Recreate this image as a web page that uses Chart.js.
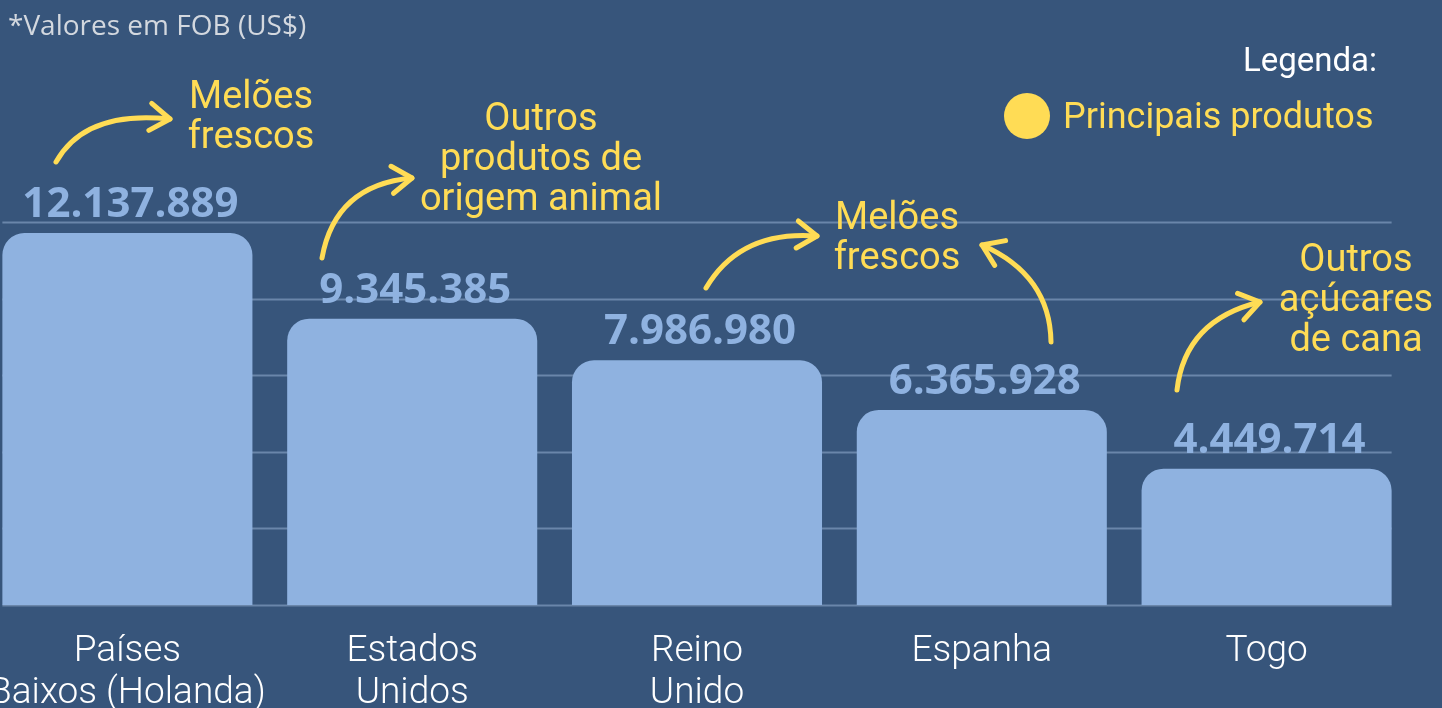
<!DOCTYPE html>
<html lang="pt">
<head>
    <meta charset="UTF-8">
    <title>Principais destinos - Valores em FOB</title>
    <script src="https://cdn.jsdelivr.net/npm/chart.js"></script>
    <style>
        html, body {
            margin: 0;
            padding: 0;
            width: 1442px;
            height: 708px;
            overflow: hidden;
            background-color: #37557b;
        }

        .note {
            position: absolute;
            left: 8px;
            top: 5px;
            font-family: "Open Sans", sans-serif;
            font-size: 28px;
            color: #d3d8df;
            z-index: 2;
        }

        .legend-title {
            position: absolute;
            right: 65px;
            top: 40px;
            font-family: Roboto, sans-serif;
            font-size: 33px;
            color: #ffffff;
            z-index: 2;
        }

        .legend-item {
            position: absolute;
            left: 1004px;
            top: 93px;
            display: flex;
            align-items: center;
            font-family: Roboto, sans-serif;
            font-size: 36px;
            color: #ffdc55;
            z-index: 2;
        }

        .legend-item .dot {
            width: 46px;
            height: 46px;
            border-radius: 50%;
            background-color: #ffdc55;
            margin-right: 13px;
        }

        .chart-box {
            position: absolute;
            left: -15px;
            top: 0;
            width: 1457px;
            height: 708px;
        }
    </style>
</head>
<body>
    <div class="note">*Valores em FOB (US$)</div>
    <div class="legend-title">Legenda:</div>
    <div class="legend-item"><span class="dot"></span>Principais produtos</div>
    <div class="chart-box">
        <canvas id="exportChart"></canvas>
    </div>
    <script>
        // dados
        const countries = [['Países', 'Baixos (Holanda)'], ['Estados', 'Unidos'], ['Reino', 'Unido'], 'Espanha', 'Togo'];
        const exportValues = [12137889, 9345385, 7986980, 6365928, 4449714];
        const mainProducts = [['Melões', 'frescos'], ['Outros', 'produtos de', 'origem animal'], ['Melões', 'frescos'], ['Melões', 'frescos'], ['Outros', 'açúcares', 'de cana']];
        const yTicks = [0, 2500000, 5000000, 7500000, 10000000, 12500000];

        const barColor = '#8fb2e0';
        const gridColor = '#6a86aa';
        const yellow = '#ffdc55';
        const shift = 15; // canvas starts 15px left of the page

        function formatBR(v) {
            return String(v).replace(/\B(?=(\d{3})+(?!\d))/g, '.');
        }

        // annotations: label index + position (page coords)
        const productNotes = [
            { idx: 0, x: 251, y: 98 },
            { idx: 1, x: 541, y: 120 },
            { idx: 2, x: 897, y: 219 },
            { idx: 4, x: 1356, y: 261 }
        ];
        // arrows: tail, control, tip
        const arrows = [
            [[56, 162], [85, 110], [170, 119]],
            [[322, 258], [335, 185], [412, 178]],
            [[706, 288], [740, 230], [817, 236]],
            [[1051, 342], [1050, 275], [982, 245]],
            [[1177, 390], [1185, 320], [1260, 302]]
        ];

        const decorPlugin = {
            id: 'decor',
            beforeDatasetsDraw(chart) {
                const ctx = chart.ctx;
                const meta = chart.getDatasetMeta(0);
                const first = meta.data[0];
                const last = meta.data[meta.data.length - 1];
                const x0 = first.x - first.width / 2;
                const x1 = last.x + last.width / 2;
                const y = chart.scales.y;
                ctx.save();
                ctx.strokeStyle = gridColor;
                ctx.lineWidth = 2;
                yTicks.forEach(function (v) {
                    const py = Math.round(y.getPixelForValue(v)) + 0.5;
                    ctx.beginPath();
                    ctx.moveTo(x0, py);
                    ctx.lineTo(x1, py);
                    ctx.stroke();
                });
                ctx.restore();
            },
            afterDatasetsDraw(chart) {
                const ctx = chart.ctx;
                const meta = chart.getDatasetMeta(0);
                ctx.save();

                // valores acima das barras
                ctx.fillStyle = barColor;
                ctx.font = 'bold 42px "Open Sans"';
                ctx.textAlign = 'center';
                ctx.textBaseline = 'alphabetic';
                meta.data.forEach(function (bar, i) {
                    ctx.fillText(formatBR(exportValues[i]), bar.x + 3, bar.y - 16);
                });

                // produtos
                ctx.fillStyle = yellow;
                ctx.font = '38px Roboto';
                ctx.textBaseline = 'middle';
                productNotes.forEach(function (n) {
                    mainProducts[n.idx].forEach(function (line, k) {
                        ctx.fillText(line, n.x + shift, n.y + k * 40);
                    });
                });

                // setas
                ctx.strokeStyle = yellow;
                ctx.lineWidth = 5;
                ctx.lineCap = 'round';
                ctx.lineJoin = 'round';
                arrows.forEach(function (a) {
                    const p0 = a[0], c = a[1], p2 = a[2];
                    ctx.beginPath();
                    ctx.moveTo(p0[0] + shift, p0[1]);
                    ctx.quadraticCurveTo(c[0] + shift, c[1], p2[0] + shift, p2[1]);
                    ctx.stroke();
                    const ang = Math.atan2(p2[1] - c[1], p2[0] - c[0]);
                    ctx.beginPath();
                    ctx.moveTo(p2[0] + shift + 24 * Math.cos(ang + Math.PI - 0.6), p2[1] + 24 * Math.sin(ang + Math.PI - 0.6));
                    ctx.lineTo(p2[0] + shift, p2[1]);
                    ctx.lineTo(p2[0] + shift + 24 * Math.cos(ang + Math.PI + 0.6), p2[1] + 24 * Math.sin(ang + Math.PI + 0.6));
                    ctx.stroke();
                });
                ctx.restore();
            }
        };

        const ctx1 = document.getElementById('exportChart').getContext('2d');
        const exportChart = new Chart(ctx1, {
            type: 'bar',
            data: {
                labels: countries,
                datasets: [{
                    data: exportValues,
                    backgroundColor: barColor,
                    borderRadius: { topLeft: 22, topRight: 22, bottomLeft: 0, bottomRight: 0 },
                    borderSkipped: false,
                    barPercentage: 0.878,
                    categoryPercentage: 1
                }]
            },
            options: {
                responsive: true,
                maintainAspectRatio: false,
                animation: false,
                layout: { padding: { top: 222, left: 0, right: 33, bottom: 0 } },
                plugins: {
                    legend: { display: false },
                    tooltip: { enabled: false }
                },
                scales: {
                    x: {
                        grid: { display: false, drawTicks: false },
                        border: { display: false },
                        ticks: {
                            color: '#ffffff',
                            font: { family: 'Roboto', size: 37, weight: 300, lineHeight: 1.13 },
                            padding: 26,
                            maxRotation: 0,
                            autoSkip: false
                        },
                        afterFit(scale) {
                            scale.height = 103;
                            scale.paddingLeft = 0;
                            scale.paddingRight = 0;
                        }
                    },
                    y: {
                        display: false,
                        min: yTicks[0],
                        max: yTicks[yTicks.length - 1]
                    }
                }
            },
            plugins: [decorPlugin]
        });
    </script>
</body>
</html>
